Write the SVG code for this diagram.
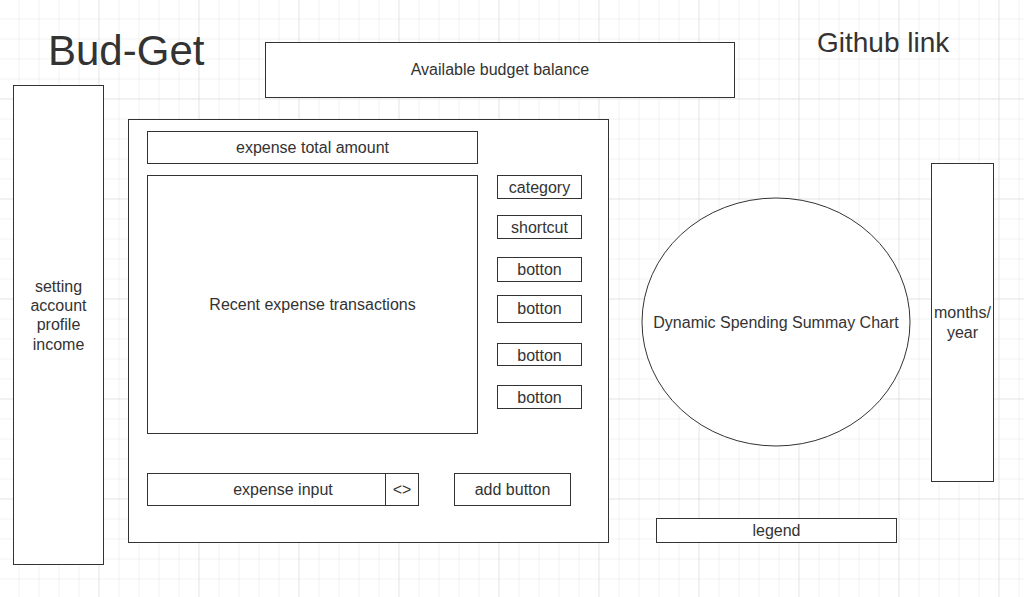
<svg xmlns="http://www.w3.org/2000/svg" width="1024" height="597" viewBox="0 0 1024 597">
<defs>
<pattern id="minor" width="20" height="20" patternUnits="userSpaceOnUse" x="-0.5" y="-0.5">
<path d="M20 0V20M0 20H20" fill="none" stroke="#e6e6e6" stroke-width="1"/>
</pattern>
<pattern id="major" width="100" height="100" patternUnits="userSpaceOnUse" x="-0.5" y="-0.5">
<path d="M100 0V100M0 100H100" fill="none" stroke="#d9d9d9" stroke-width="1"/>
</pattern>
</defs>
<style>
.b{fill:#fff;stroke:#333;stroke-width:1}
.t{font-family:"Liberation Sans",Arial,sans-serif;font-size:16px;fill:#333;text-anchor:middle}
</style>
<rect width="1024" height="597" fill="#fff"/>
<rect width="1024" height="597" fill="url(#minor)"/>
<rect width="1024" height="597" fill="url(#major)"/>
<g id="title"><text x="48" y="65" style="font-family:'Liberation Sans',Arial,sans-serif;font-size:42px;fill:#333">Bud-Get</text></g>
<g id="github"><text x="817" y="52" style="font-family:'Liberation Sans',Arial,sans-serif;font-size:28px;fill:#333">Github link</text></g>
<g id="balance"><rect class="b" x="265.5" y="42.5" width="469" height="55"/><text class="t" x="500" y="75">Available budget balance</text></g>
<g id="sidebar"><rect class="b" x="13.5" y="85.5" width="90" height="479"/>
<text class="t" x="58.5" y="292">setting</text><text class="t" x="58.5" y="311">account</text><text class="t" x="58.5" y="330">profile</text><text class="t" x="58.5" y="350">income</text></g>
<g id="main"><rect class="b" x="128.5" y="119.5" width="480" height="423"/></g>
<g id="total"><rect class="b" x="147.5" y="131.5" width="330" height="32"/><text class="t" x="312.5" y="153">expense total amount</text></g>
<g id="recent"><rect class="b" x="147.5" y="175.5" width="330" height="258"/><text class="t" x="312.5" y="310">Recent expense transactions</text></g>
<g id="category"><rect class="b" x="497.5" y="175.5" width="84" height="23"/><text class="t" x="539.5" y="193">category</text></g>
<g id="shortcut"><rect class="b" x="497.5" y="215.5" width="84" height="23"/><text class="t" x="539.5" y="233">shortcut</text></g>
<g id="botton1"><rect class="b" x="497.5" y="257.5" width="84" height="24"/><text class="t" x="539.5" y="275">botton</text></g>
<g id="botton2"><rect class="b" x="497.5" y="295.5" width="84" height="27"/><text class="t" x="539.5" y="314">botton</text></g>
<g id="botton3"><rect class="b" x="497.5" y="343.5" width="84" height="22"/><text class="t" x="539.5" y="361">botton</text></g>
<g id="botton4"><rect class="b" x="497.5" y="385.5" width="84" height="23"/><text class="t" x="539.5" y="403">botton</text></g>
<g id="input"><rect class="b" x="147.5" y="473.5" width="238" height="32"/><text class="t" x="283" y="495">expense input</text></g>
<g id="toggle"><rect class="b" x="385.5" y="473.5" width="33" height="32"/><text class="t" x="402" y="495">&lt;&gt;</text></g>
<g id="add"><rect class="b" x="454.5" y="473.5" width="116" height="32"/><text class="t" x="512.5" y="495">add button</text></g>
<g id="chart"><ellipse class="b" cx="776" cy="322" rx="134" ry="124"/><text class="t" x="776" y="328">Dynamic Spending Summay Chart</text></g>
<g id="months"><rect class="b" x="931.5" y="163.5" width="62" height="318"/><text class="t" x="962.5" y="318">months/</text><text class="t" x="962.5" y="338">year</text></g>
<g id="legend"><rect class="b" x="656.5" y="518.5" width="240" height="24"/><text class="t" x="776.5" y="536">legend</text></g>
<g id="connectors"/>
</svg>
